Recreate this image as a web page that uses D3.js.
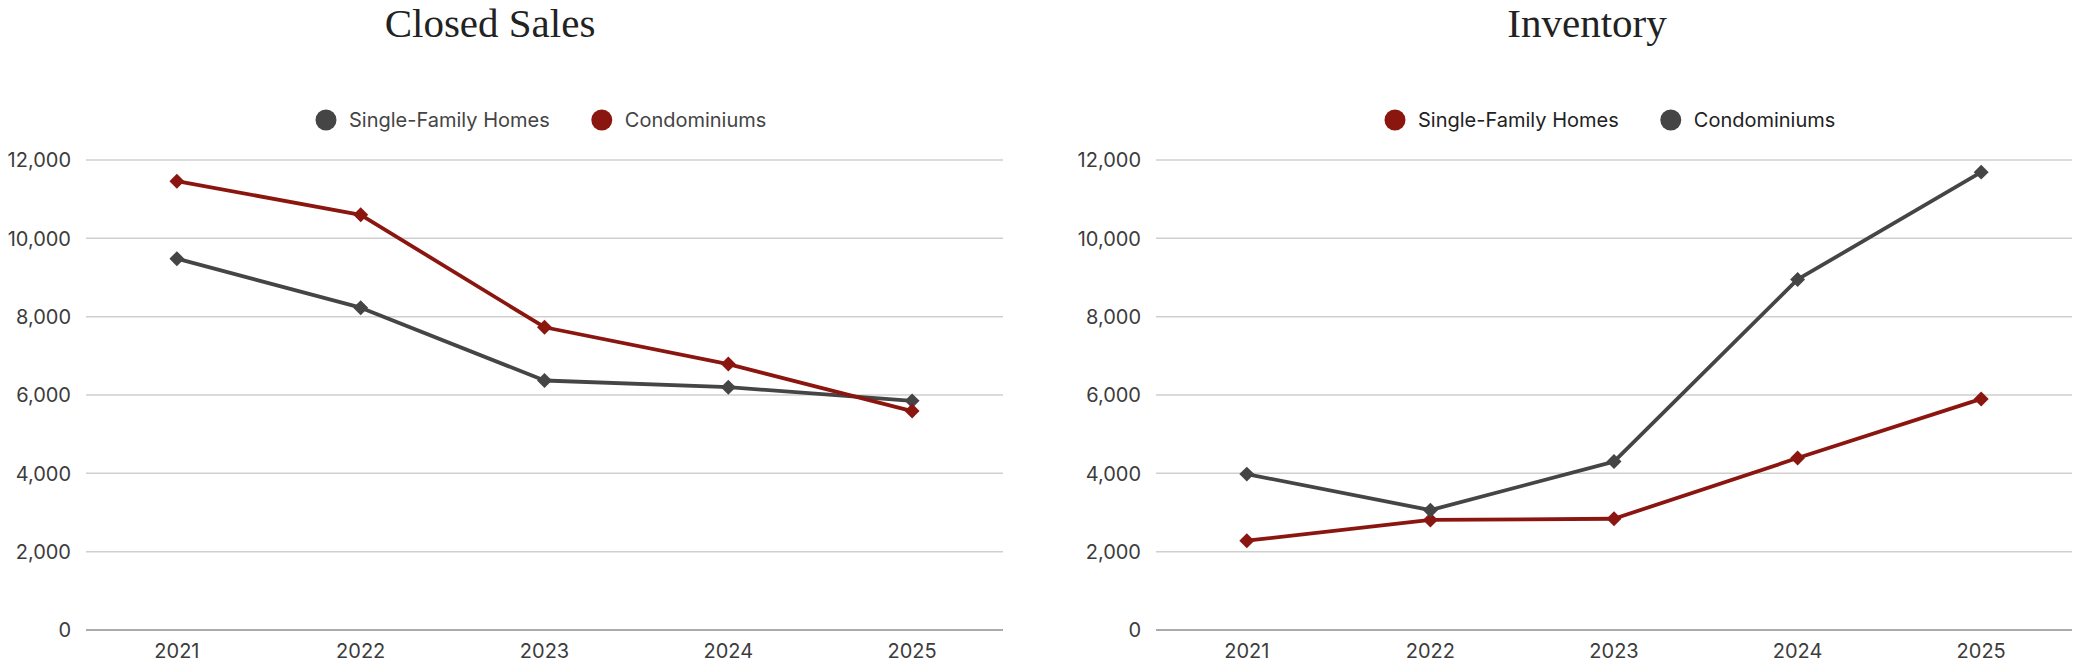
<!DOCTYPE html>
<html>
<head>
<meta charset="utf-8">
<script src="https://cdn.jsdelivr.net/npm/d3@7"></script>
<style>
  html, body { margin: 0; padding: 0; background: #ffffff; }
  svg { display: block; }
</style>
</head>
<body>
<div id="graphContainer"></div>
<script>
const years = ["2021", "2022", "2023", "2024", "2025"];
const yTicks = [0, 2000, 4000, 6000, 8000, 10000, 12000];

const closedSingleFamily = [9480, 8230, 6370, 6200, 5850];
const closedCondo = [11460, 10600, 7730, 6790, 5590];

const inventorySingleFamily = [2280, 2810, 2840, 4390, 5900];
const inventoryCondo = [3980, 3060, 4300, 8950, 11690];

const RED = "#8b1610";
const GRAY = "#454545";

const svg = d3.select("#graphContainer").append("svg")
    .attr("width", 2074)
    .attr("height", 664);

function buildLineChart(opts) {
    const g = svg.append("g");

    const x = d3.scalePoint()
        .domain(years)
        .range([opts.left, opts.right])
        .padding(0.5);

    const y = d3.scaleLinear()
        .domain([0, 12000])
        .range([630, 160]);

    // title
    g.append("text")
        .attr("x", opts.titleX)
        .attr("y", 37)
        .attr("text-anchor", "middle")
        .style("font-family", "'Liberation Serif', serif")
        .style("font-size", "41px")
        .style("fill", "#222")
        .text(opts.title);

    // gridlines
    g.append("g")
        .selectAll("line")
        .data(yTicks)
        .enter()
        .append("line")
        .attr("x1", opts.left + 1)
        .attr("x2", opts.right - 1)
        .attr("y1", d => y(d))
        .attr("y2", d => y(d))
        .attr("stroke", d => d === 0 ? "#8f8f8f" : "#cfcfcf")
        .attr("stroke-width", 1.5);

    // y labels
    g.append("g")
        .selectAll("text")
        .data(yTicks)
        .enter()
        .append("text")
        .attr("x", opts.left - 14)
        .attr("y", d => y(d))
        .attr("dy", "0.36em")
        .attr("text-anchor", "end")
        .style("font-family", "Inter, sans-serif")
        .style("font-size", "20px")
        .style("fill", "#3c3c3c")
        .text(d => d3.format(",")(d));

    // x labels
    g.append("g")
        .selectAll("text")
        .data(years)
        .enter()
        .append("text")
        .attr("x", d => x(d))
        .attr("y", 658)
        .attr("text-anchor", "middle")
        .style("font-family", "Inter, sans-serif")
        .style("font-size", "20px")
        .style("fill", "#3c3c3c")
        .text(d => d);

    const line = d3.line()
        .x((d, i) => x(years[i]))
        .y(d => y(d));

    const diamond = d3.symbol().type(d3.symbolSquare).size(112);

    opts.series.forEach(s => {
        g.append("path")
            .datum(s.values)
            .attr("d", line)
            .attr("fill", "none")
            .attr("stroke", s.color)
            .attr("stroke-width", 3.8)
            .attr("stroke-linejoin", "round");

        g.append("g")
            .selectAll("path")
            .data(s.values)
            .enter()
            .append("path")
            .attr("d", diamond)
            .attr("transform", (d, i) => `translate(${x(years[i])},${y(d)}) rotate(45)`)
            .attr("fill", s.color);
    });

    // legend
    let lx = opts.legendX;
    opts.legend.forEach(s => {
        g.append("circle")
            .attr("cx", lx)
            .attr("cy", 120)
            .attr("r", 10.5)
            .attr("fill", s.color);
        const t = g.append("text")
            .attr("x", lx + 23)
            .attr("y", 120)
            .attr("dy", "0.36em")
            .style("font-family", "Inter, sans-serif")
            .style("font-size", "20px")
            .style("fill", opts.legendText)
            .text(s.name);
        lx += 23 + t.node().getComputedTextLength() + 52;
    });
}

const closedSeries = [
    {name: "Single-Family Homes", values: closedSingleFamily, color: GRAY},
    {name: "Condominiums", values: closedCondo, color: RED},
];
buildLineChart({
    title: "Closed Sales",
    titleX: 490,
    left: 85,
    right: 1004,
    legendX: 326,
    legendText: "#444",
    series: closedSeries,
    legend: closedSeries,
});

const inventorySeries = [
    {name: "Single-Family Homes", values: inventorySingleFamily, color: RED},
    {name: "Condominiums", values: inventoryCondo, color: GRAY},
];
buildLineChart({
    title: "Inventory",
    titleX: 1587,
    left: 1155,
    right: 2073,
    legendX: 1395,
    legendText: "#222",
    series: inventorySeries,
    legend: inventorySeries,
});
</script>
</body>
</html>
